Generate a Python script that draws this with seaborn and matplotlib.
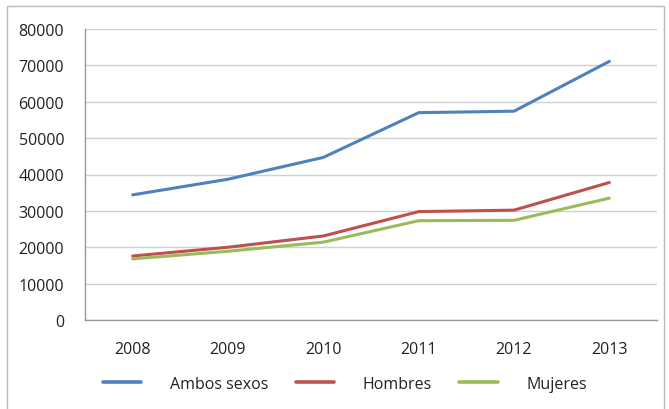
import matplotlib
matplotlib.use("Agg")
import matplotlib.pyplot as plt
import seaborn as sns
import pandas as pd
from matplotlib.patches import Rectangle
from matplotlib.lines import Line2D

years = ["2008", "2009", "2010", "2011", "2012", "2013"]
ambos = [34400, 38700, 44700, 57000, 57400, 71100]
hombres = [17600, 20000, 23100, 29800, 30200, 37800]
mujeres = [16800, 18900, 21400, 27300, 27400, 33500]
series_names = ["Ambos sexos", "Hombres", "Mujeres"]
colors = ["#4F81BD", "#C0504D", "#9BBB59"]
yticks = [0, 10000, 20000, 30000, 40000, 50000, 60000, 70000, 80000]

sns.set_theme(style="white")
plt.rcParams['font.family'] = ['Open Sans', 'DejaVu Sans']

rows = []
for name, vals in zip(series_names, [ambos, hombres, mujeres]):
    for i, (y, v) in enumerate(zip(years, vals)):
        rows.append({"idx": i, "year": y, "value": v, "serie": name})
df = pd.DataFrame(rows)

fig = plt.figure(figsize=(6.69, 4.10), dpi=100)
ax = fig.add_axes([85/669, 1 - 321/410, (657-85)/669, (321-30)/410])

sns.lineplot(data=df, x="idx", y="value", hue="serie", palette=colors,
             linewidth=2.2, ax=ax, legend=False, sort=False)

fs = 11.5
ax.set_xlim(-0.5, 5.5)
ax.set_ylim(0, 80000)
ax.set_yticks(yticks)
ax.set_yticklabels([str(t) for t in yticks], fontsize=fs, color="#222222")
ax.set_xticks(range(len(years)))
ax.set_xticklabels(years, fontsize=fs, color="#222222")
ax.set_xticks([i - 0.5 for i in range(len(years) + 1)], minor=True)
ax.tick_params(axis="x", which="major", length=0, pad=15)
ax.tick_params(axis="x", which="minor", length=5, color="#999999", direction="out")
ax.tick_params(axis="y", length=5, color="#999999", direction="out", pad=10)
ax.set_xlabel("")
ax.set_ylabel("")
ax.grid(axis="y", color="#d0d0d0", linewidth=1.0)
ax.set_axisbelow(True)
for s in ["top", "right"]:
    ax.spines[s].set_visible(False)
for s in ["left", "bottom"]:
    ax.spines[s].set_color("#999999")
    ax.spines[s].set_linewidth(1.0)

handles = [Line2D([0], [0], color=c, linewidth=2.6) for c in colors]
fig.legend(handles, series_names, loc="center", bbox_to_anchor=(345/669, 1 - 385/410),
           ncol=3, frameon=False, fontsize=fs, handlelength=2.4,
           columnspacing=1.7, handletextpad=1.8, labelcolor="#222222")

fig.patches.append(Rectangle((7/669, -0.05), (664-7)/669, 1.05 - 7/410,
                             transform=fig.transFigure, fill=False,
                             edgecolor="#bbbbbb", linewidth=1.0))

fig.savefig("out.png", dpi=100)
